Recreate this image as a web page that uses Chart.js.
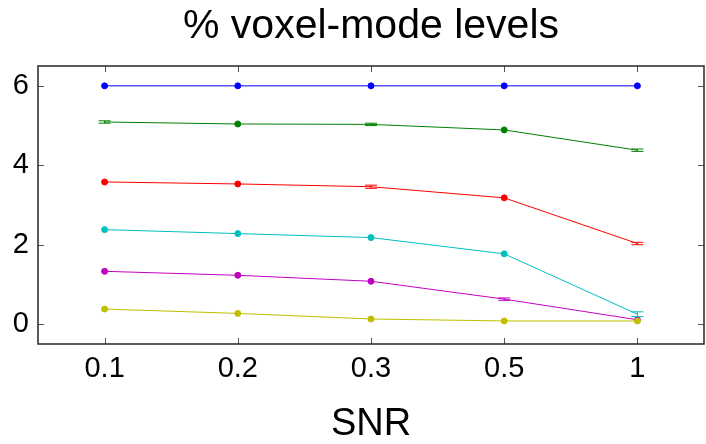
<!DOCTYPE html>
<html>
<head>
<meta charset="utf-8">
<script src="https://cdn.jsdelivr.net/npm/chart.js@4.4.1/dist/chart.umd.min.js"></script>
<style>
  html, body { margin: 0; padding: 0; background: #fff; overflow: hidden; }
  canvas { display: block; }
</style>
</head>
<body>
<canvas id="myChart" width="709" height="444" style="width:709px;height:444px"></canvas>
<script>
const snrLabels = ["0.1", "0.2", "0.3", "0.5", "1"];
const yTicks = [0, 2, 4, 6];

const blueVals = [6.0, 6.0, 6.0, 6.0, 6.0];
const greenVals = [5.09, 5.04, 5.03, 4.89, 4.38];
const redVals = [3.58, 3.53, 3.46, 3.18, 2.03];
const cyanVals = [2.38, 2.28, 2.18, 1.77, 0.25];
const magentaVals = [1.33, 1.23, 1.08, 0.63, 0.11];
const yellowVals = [0.38, 0.27, 0.13, 0.08, 0.08];

// error bars (null = plain marker)
const blueErr = [null, null, null, null, null];
const greenErr = [0.03, null, 0.03, null, 0.03];
const redErr = [null, null, 0.04, null, 0.03];
const cyanErr = [null, null, null, null, 0.06];
const magentaErr = [null, null, null, 0.03, null];
const yellowErr = [null, null, null, null, null];

const FONT = "'Liberation Sans', Helvetica, Arial, sans-serif";

function series(vals, errs, color) {
  return {
    data: vals,
    errors: errs,
    borderColor: color,
    backgroundColor: color,
    pointBackgroundColor: color,
    pointBorderColor: color,
    borderWidth: 1,
    pointRadius: errs.map((e) => (e == null ? 3 : 0)),
    pointBorderWidth: 1,
    tension: 0,
    fill: false,
  };
}

// first in list is drawn on top
const datasets = [
  series(yellowVals, yellowErr, "#bfbf00"),
  series(magentaVals, magentaErr, "#bf00bf"),
  series(cyanVals, cyanErr, "#00bfbf"),
  series(redVals, redErr, "#ff0000"),
  series(greenVals, greenErr, "#008000"),
  series(blueVals, blueErr, "#0000ff"),
];

const errorBars = {
  id: "errorBars",
  afterDatasetsDraw(chart) {
    const ctx = chart.ctx;
    const y = chart.scales.y;
    chart.data.datasets.forEach((ds, i) => {
      const meta = chart.getDatasetMeta(i);
      meta.data.forEach((pt, j) => {
        const e = ds.errors[j];
        if (e == null) return;
        const y1 = y.getPixelForValue(ds.data[j] + e);
        const y2 = y.getPixelForValue(ds.data[j] - e);
        ctx.save();
        ctx.strokeStyle = ds.borderColor;
        ctx.lineWidth = 1;
        ctx.beginPath();
        ctx.moveTo(pt.x, y1);
        ctx.lineTo(pt.x, y2);
        ctx.moveTo(pt.x - 6, y1);
        ctx.lineTo(pt.x + 6, y1);
        ctx.moveTo(pt.x - 6, y2);
        ctx.lineTo(pt.x + 6, y2);
        ctx.stroke();
        ctx.restore();
      });
    });
  },
};

const axesBox = {
  id: "axesBox",
  afterDraw(chart) {
    const ctx = chart.ctx;
    const a = chart.chartArea;
    const xs = chart.scales.x;
    const ys = chart.scales.y;
    ctx.save();
    ctx.strokeStyle = "#555";
    ctx.lineWidth = 1;
    ctx.beginPath();
    snrLabels.forEach((l, i) => {
      const px = Math.round(xs.getPixelForValue(i)) + 0.5;
      ctx.moveTo(px, a.bottom);
      ctx.lineTo(px, a.bottom - 6);
      ctx.moveTo(px, a.top);
      ctx.lineTo(px, a.top + 6);
    });
    yTicks.forEach((v) => {
      const py = Math.round(ys.getPixelForValue(v)) + 0.5;
      ctx.moveTo(a.left, py);
      ctx.lineTo(a.left + 6, py);
      ctx.moveTo(a.right, py);
      ctx.lineTo(a.right - 6, py);
    });
    ctx.stroke();
    ctx.strokeStyle = "#262626";
    ctx.lineWidth = 1.5;
    ctx.strokeRect(a.left, a.top, a.right - a.left, a.bottom - a.top);
    ctx.restore();
  },
};

const ctx = document.getElementById("myChart").getContext("2d");

const myChart = new Chart(ctx, {
  type: "line",
  data: { labels: snrLabels, datasets: datasets },
  options: {
    responsive: false,
    animation: false,
    layout: { padding: 0 },
    plugins: {
      legend: { display: false },
      tooltip: { enabled: false },
      title: {
        display: true,
        fullSize: false,
        text: "% voxel-mode levels",
        color: "#000",
        font: { family: FONT, size: 41, weight: "normal" },
        padding: { top: 2.2, bottom: 14.6 },
      },
    },
    scales: {
      x: {
        type: "category",
        offset: true,
        grid: { display: false, drawTicks: false },
        border: { display: false },
        ticks: {
          color: "#000",
          font: { family: FONT, size: 29 },
          padding: 8,
          maxRotation: 0,
        },
        title: {
          display: true,
          text: "SNR",
          color: "#000",
          font: { family: FONT, size: 38 },
          padding: { top: 0, bottom: -3 },
        },
        afterFit: (s) => { s.height = 100; },
      },
      y: {
        min: -0.5,
        max: 6.5,
        grid: { display: false, drawTicks: false },
        border: { display: false },
        ticks: {
          color: "#000",
          font: { family: FONT, size: 29 },
          padding: 9,
        },
        afterBuildTicks: (s) => { s.ticks = yTicks.map((v) => ({ value: v })); },
        afterFit: (s) => { s.width = 38; },
      },
    },
  },
  plugins: [errorBars, axesBox],
});
</script>
</body>
</html>
